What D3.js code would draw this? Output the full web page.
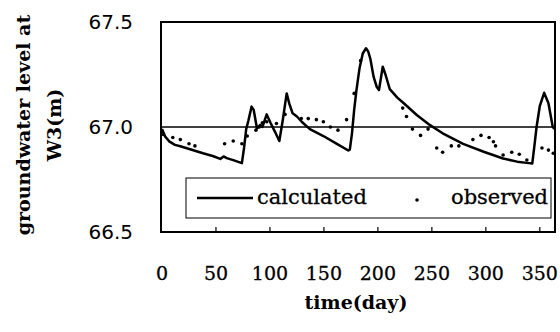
<!DOCTYPE html>
<html><head><meta charset="utf-8">
<script src="https://cdn.jsdelivr.net/npm/d3@7"></script>
<style>body{margin:0;background:#fff}</style>
</head><body><svg id="c" width="560" height="332"></svg>
<script>
const xTicks = [0,50,100,150,200,250,300,350];
const yTicks = [66.5,67.0,67.5];
const calcDays = [0,3,7,12,17,26,38,47,54,57,60,66,74,76,78,80,83,85,88,91,93,97,100.5,104.7,108.7,111.8,115.5,118,121,125,129.4,137,149.5,162,172.6,174,176,178,180,183,186,189,191,193,196,199,201,204.5,207,211,218,224,236,248,260,279,298,316,329,340,343,345,347,350,354,358,362,364];
const calcVals = [66.99,66.954,66.93,66.915,66.908,66.894,66.875,66.862,66.848,66.86,66.852,66.842,66.828,66.9,66.99,67.03,67.097,67.08,66.993,67.01,67.0,67.06,67.02,66.977,66.933,67.03,67.16,67.11,67.065,67.05,67.025,66.99,66.957,66.92,66.888,66.892,66.97,67.08,67.17,67.28,67.35,67.375,67.36,67.325,67.24,67.19,67.176,67.287,67.25,67.18,67.14,67.113,67.057,67.01,66.97,66.92,66.882,66.85,66.835,66.828,66.826,66.91,67.0,67.1,67.163,67.113,67.0,66.99];
const obsDays = [1,10,17,25,30.5,58,66,74,79,87,90,93,97,106,114,129,135.5,143,149.5,156,163,171,178,184,223,226.5,232,239.5,246.5,254.5,260,268,275,288,295.5,303,307,309,316,324,331,338,352,358,362.5];
const obsVals = [66.965,66.95,66.94,66.92,66.91,66.92,66.933,66.92,66.957,66.985,67.0,67.02,67.025,67.017,67.06,67.04,67.04,67.035,67.025,67.0,66.985,67.035,67.16,67.316,67.09,67.05,66.99,66.96,66.99,66.9,66.88,66.91,66.91,66.94,66.96,66.95,66.93,66.91,66.867,66.88,66.87,66.843,66.9,66.89,66.875];

const svg = d3.select('#c');
const L=161, R=555, T=22, B=232;
const x = d3.scaleLinear().domain([0,365]).range([162,556]);
const y = d3.scaleLinear().domain([66.5,67.5]).range([B,T]);

// y tick labels
svg.append('g').selectAll('text').data(yTicks).join('text')
  .attr('x',133).attr('y',d=>y(d)).attr('dy','0.35em')
  .attr('text-anchor','end').attr('font-family','DejaVu Sans').attr('font-size',20)
  .text(d=>d.toFixed(1));

// x axis ticks inward
svg.append('g').selectAll('line').data(xTicks.filter(d=>d>0)).join('line')
  .attr('x1',d=>x(d)).attr('x2',d=>x(d)).attr('y1',B).attr('y2',B-5)
  .attr('stroke','#000').attr('stroke-width',1.2);
svg.append('g').selectAll('text').data(xTicks).join('text')
  .attr('x',d=>x(d)).attr('y',273).attr('dy','0.35em')
  .attr('text-anchor','middle').attr('font-family','DejaVu Serif').attr('font-size',19)
  .attr('stroke','#000').attr('stroke-width',0.3)
  .text(d=>d);

// reference line 67.0
svg.append('line').attr('x1',L).attr('x2',R).attr('y1',y(67)).attr('y2',y(67))
  .attr('stroke','#000').attr('stroke-width',1.6);

// calculated line
const line = d3.line().x((d,i)=>x(calcDays[i])).y(d=>y(d));
svg.append('path').attr('d',line(calcVals)).attr('fill','none')
  .attr('stroke','#000').attr('stroke-width',2.5).attr('stroke-linejoin','round');

// observed dots
svg.append('g').selectAll('circle').data(obsVals).join('circle')
  .attr('cx',(d,i)=>x(obsDays[i])).attr('cy',d=>y(d)).attr('r',1.8).attr('fill','#000');

// legend
const lg = svg.append('g');
lg.append('rect').attr('x',186).attr('y',178).attr('width',365).attr('height',40)
  .attr('fill','#fff').attr('stroke','#000').attr('stroke-width',1);
lg.append('line').attr('x1',197).attr('x2',253).attr('y1',198).attr('y2',198)
  .attr('stroke','#000').attr('stroke-width',2.5);
lg.append('text').attr('x',257).attr('y',204).attr('font-family','DejaVu Serif').attr('font-size',21)
  .attr('stroke','#000').attr('stroke-width',0.3)
  .text('calculated');
lg.append('circle').attr('cx',417).attr('cy',200).attr('r',1.8).attr('fill','#000');
lg.append('text').attr('x',451).attr('y',204).attr('font-family','DejaVu Serif').attr('font-size',21)
  .attr('stroke','#000').attr('stroke-width',0.3)
  .text('observed');

// frame
svg.append('rect').attr('x',L).attr('y',T).attr('width',R-L).attr('height',B-T)
  .attr('fill','none').attr('stroke','#000').attr('stroke-width',2);

// titles
svg.append('text').attr('x',356).attr('y',302).attr('dy','0.35em').attr('text-anchor','middle')
  .attr('font-family','DejaVu Serif').attr('font-weight','bold').attr('font-size',19)
  .text('time(day)');
const yt = svg.append('text').attr('transform','translate(0,125) rotate(-90)')
  .attr('text-anchor','middle').attr('font-family','DejaVu Serif').attr('font-weight','bold').attr('font-size',19);
yt.append('tspan').attr('x',0).attr('y',30).text('groundwater level at');
yt.append('tspan').attr('x',0).attr('y',61).text('W3(m)');
</script></body></html>
